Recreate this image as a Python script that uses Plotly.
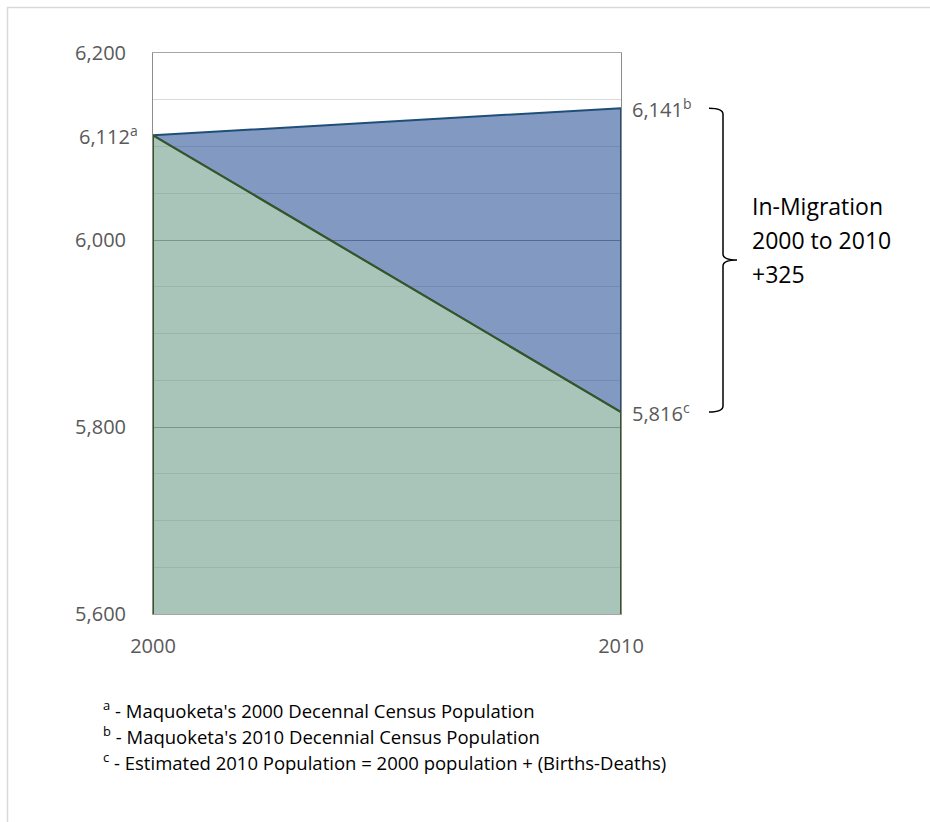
import plotly.graph_objects as go

# ---- data ----
years = [2000, 2010]
census_pop = [6112, 6141]        # decennial census (2000 -> 2010)
estimated_pop = [6112, 5816]     # 2000 population + (births - deaths)
y_min, y_max = 5600, 6200
ytick_vals = [5600, 5800, 6000, 6200]
ytick_text = ["5,600", "5,800", "6,000", "6,200"]
xtick_text = ["2000", "2010"]
footnotes = [
    "<sup>a</sup> - Maquoketa's 2000 Decennal Census Population",
    "<sup>b</sup> - Maquoketa's 2010 Decennial Census Population",
    "<sup>c</sup> - Estimated 2010 Population = 2000 population + (Births-Deaths)",
]

migration = census_pop[1] - estimated_pop[1]

# ---- layout geometry (pixels) ----
W, H = 930, 822
PL, PT, PW, PH = 153, 53, 468, 561
FONT = "Open Sans"


def pxx(px):
    return (px - PL) / PW


def pxy(py):
    return (PT + PH - py) / PH


def vy(v):
    return (v - y_min) / (y_max - y_min)


fig = go.Figure()

# blue: in-migration area between census line and estimated line
fig.add_trace(go.Scatter(
    x=years + years[::-1],
    y=census_pop + estimated_pop[::-1],
    fill="toself", mode="lines",
    fillcolor="rgba(47,85,151,0.6)",
    line=dict(color="#1f4e79", width=2),
    hoverinfo="skip", showlegend=False, cliponaxis=False,
))
# green: estimated population area
fig.add_trace(go.Scatter(
    x=[years[0], years[0], years[1], years[1]],
    y=[y_min, estimated_pop[0], estimated_pop[1], y_min],
    fill="toself", mode="lines",
    fillcolor="rgba(112,157,137,0.6)",
    line=dict(color="#375623", width=2),
    hoverinfo="skip", showlegend=False, cliponaxis=False,
))

annotations = []
tick_font = dict(family=FONT, size=20, color="#595959")
annotations.append(dict(xref="paper", yref="y", x=0, y=census_pop[0],
                        text=f"{census_pop[0]:,}<sup>a</sup>", showarrow=False,
                        xanchor="right", yanchor="middle", xshift=-13, font=tick_font))
annotations.append(dict(xref="paper", yref="y", x=1, y=census_pop[1],
                        text=f"{census_pop[1]:,}<sup>b</sup>", showarrow=False,
                        xanchor="left", yanchor="middle", xshift=9, font=tick_font))
annotations.append(dict(xref="paper", yref="y", x=1, y=estimated_pop[1],
                        text=f"{estimated_pop[1]:,}<sup>c</sup>", showarrow=False,
                        xanchor="left", yanchor="middle", xshift=9, font=tick_font))

mig_lines = ["In-Migration", f"{years[0]} to {years[1]}", f"+{migration}"]
for i, t in enumerate(mig_lines):
    annotations.append(dict(xref="paper", yref="paper", x=pxx(750), y=pxy(206 + 34 * i),
                            text=t, showarrow=False, xanchor="left", yanchor="middle",
                            font=dict(family=FONT, size=23, color="#000000")))

for i, t in enumerate(footnotes):
    annotations.append(dict(xref="paper", yref="paper", x=pxx(101), y=pxy(709 + 26 * i),
                            text=t, showarrow=False, xanchor="left", yanchor="middle",
                            font=dict(family=FONT, size=18.5, color="#000000")))

# curly brace between the two 2010 values
yt = vy(census_pop[1])
yb = vy(estimated_pop[1])
ym = (yt + yb) / 2
bx0 = pxx(709)
bx1 = pxx(723)
bx2 = pxx(737)
dy = 6 / PH
brace = (f"M {bx0},{yt} Q {bx1},{yt} {bx1},{yt - dy} "
         f"L {bx1},{ym + dy} Q {bx1},{ym} {bx2},{ym} "
         f"Q {bx1},{ym} {bx1},{ym - dy} "
         f"L {bx1},{yb + dy} Q {bx1},{yb} {bx0},{yb}")

shapes = [
    dict(type="path", xref="paper", yref="paper", path=brace,
         line=dict(color="#000000", width=1.5)),
    dict(type="rect", xref="paper", yref="paper",
         x0=pxx(7.5), y0=pxy(840), x1=pxx(945), y1=pxy(7.5),
         line=dict(color="#d9d9d9", width=1.5), layer="below"),
]

fig.update_layout(
    width=W, height=H,
    margin=dict(l=PL, r=W - PL - PW, t=PT, b=H - PT - PH, pad=0),
    paper_bgcolor="white", plot_bgcolor="white",
    font=dict(family=FONT),
    annotations=annotations, shapes=shapes,
    hovermode=False,
    xaxis=dict(
        range=[years[0], years[1]], tickvals=years, ticktext=xtick_text,
        showgrid=False, zeroline=False, ticks="",
        showline=True, mirror=True, linecolor="#a6a6a6", linewidth=1,
        tickfont=tick_font, ticklabelstandoff=14,
    ),
    yaxis=dict(
        range=[y_min, y_max], tickvals=ytick_vals, ticktext=ytick_text,
        showgrid=True, gridcolor="#8c8c8c", gridwidth=1, zeroline=False, ticks="",
        showline=True, mirror=True, linecolor="#8c8c8c", linewidth=1,
        tickfont=tick_font, ticklabelstandoff=22,
        minor=dict(dtick=50, showgrid=True, gridcolor="#d9d9d9", gridwidth=1),
    ),
)

fig.write_html("out.html", config={"displayModeBar": False})
